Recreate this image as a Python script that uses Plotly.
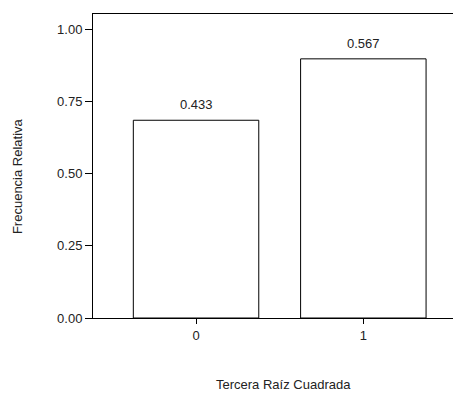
import plotly.graph_objects as go

categories = [0, 1]
bar_heights = [0.686, 0.899]
bar_labels = ["0.433", "0.567"]
y_tick_vals = [0.0, 0.25, 0.5, 0.75, 1.0]
y_tick_text = ["0.00", "0.25", "0.50", "0.75", "1.00"]
x_title = "Tercera Raíz Cuadrada"
y_title = "Frecuencia Relativa"

FONT = "Liberation Sans, Arial, sans-serif"
FS = 13

fig = go.Figure()
fig.add_trace(go.Bar(
    x=categories, y=bar_heights, width=0.75,
    marker=dict(color="white", line=dict(color="black", width=1)),
    hoverinfo="skip",
))

for c, h, t in zip(categories, bar_heights, bar_labels):
    fig.add_annotation(x=c, y=h, text=t, showarrow=False, xanchor="center",
                       yanchor="bottom", yshift=6,
                       font=dict(family=FONT, size=FS, color="#222"))

fig.add_annotation(xref="paper", yref="paper", x=0.53, y=-0.22, text=x_title,
                   showarrow=False, xanchor="center", yanchor="middle",
                   font=dict(family=FONT, size=FS, color="#222"))
fig.add_annotation(xref="paper", yref="paper", x=-0.211, y=0.467, text=y_title,
                   showarrow=False, xanchor="center", yanchor="middle", textangle=-90,
                   font=dict(family=FONT, size=FS, color="#222"))

fig.update_layout(
    width=453, height=393,
    margin=dict(l=93, r=0, t=14, b=75),
    plot_bgcolor="white", paper_bgcolor="white",
    showlegend=False,
    font=dict(family=FONT, size=FS, color="#222"),
    xaxis=dict(range=[-0.616, 1.536], tickvals=categories, ticktext=[str(c) for c in categories],
               showgrid=False, zeroline=False, showline=True, linecolor="black", linewidth=1,
               mirror=True, ticks="outside", ticklen=5, tickcolor="black"),
    yaxis=dict(range=[0, 1.0546], tickvals=y_tick_vals, ticktext=y_tick_text,
               showgrid=False, zeroline=False, showline=True, linecolor="black", linewidth=1,
               ticks="outside", ticklen=7, tickcolor="black"),
)

fig.write_html("out.html", config={"responsive": False, "displayModeBar": False},
               post_script="document.body.style.margin='0';document.body.style.padding='0';document.body.style.overflow='hidden';")
